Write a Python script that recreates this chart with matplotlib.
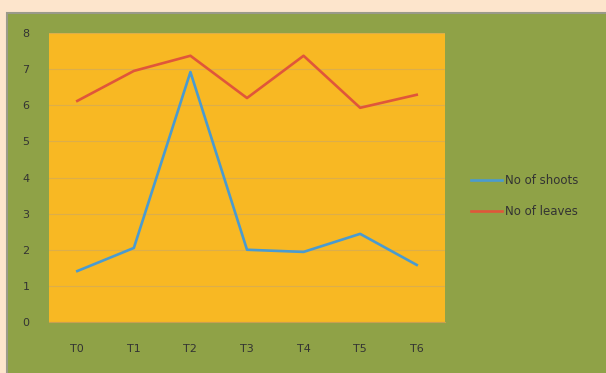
import numpy as np
import matplotlib.pyplot as plt
from matplotlib.patches import Rectangle

cats = ['T0', 'T1', 'T2', 'T3', 'T4', 'T5', 'T6']
shoots = [1.41, 2.05, 6.92, 2.0, 1.94, 2.44, 1.58]
leaves = [6.12, 6.95, 7.37, 6.2, 7.37, 5.93, 6.29]

W, H = 606, 373
fig = plt.figure(figsize=(W/100, H/100), dpi=100)
fig.patch.set_facecolor('#fde5cc')

# green chart panel, gray border on top/left only (runs off the right and bottom)
panel = Rectangle((7/W, -0.02), 1.0, 1.02 - 13/H, transform=fig.transFigure,
                  facecolor='#8fa247', edgecolor='#9a9a8a', linewidth=1.5, zorder=-10)
fig.patches.append(panel)

ax = fig.add_axes([49/W, 1 - 322/H, 396/W, 289/H])
ax.set_zorder(5)
ax.set_facecolor('#f8b823')
x = np.arange(len(cats))
ax.plot(x, shoots, color='#4a9bd0', lw=1.9, label='No of shoots')
ax.plot(x, leaves, color='#e0563a', lw=1.9, label='No of leaves')

ax.set_xlim(-0.5, 6.5)
ax.set_ylim(0, 8)
ax.set_yticks(range(9))
ax.set_xticks(x)
ax.set_xticklabels(cats)
ax.grid(axis='y', color='#dcae4a', lw=0.8)
ax.set_axisbelow(True)
for s in ax.spines.values():
    s.set_visible(False)
ax.spines['bottom'].set_visible(True)
ax.spines['bottom'].set_color('#c8a050')
ax.tick_params(axis='y', length=0, pad=14, labelsize=8, labelcolor='#333333')
ax.tick_params(axis='x', length=0, pad=16, labelsize=8, labelcolor='#333333')

ax.legend(loc='center left', bbox_to_anchor=(1.04, 0.435), frameon=False,
          fontsize=8.5, labelcolor='#333333', handlelength=2.6, handletextpad=0.2,
          labelspacing=1.55)

fig.savefig('out.png', dpi=100, facecolor=fig.get_facecolor())
